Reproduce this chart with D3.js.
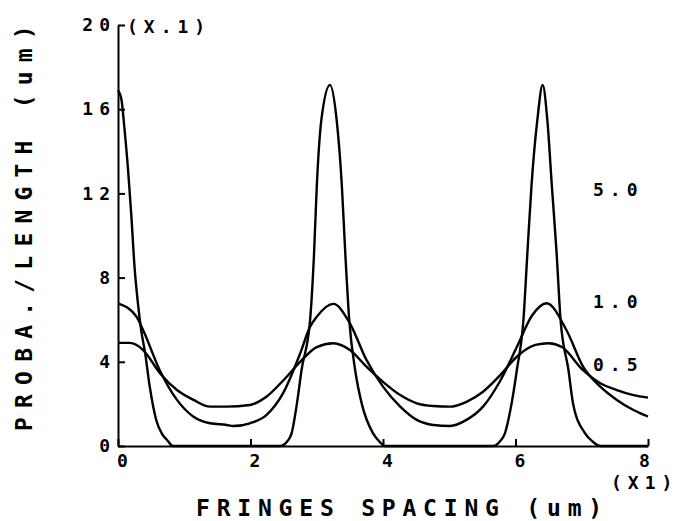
<!DOCTYPE html>
<html>
<head>
<meta charset="utf-8">
<script src="https://cdn.jsdelivr.net/npm/d3@7"></script>
<style>
    body { margin: 0; background: #fff; }
    svg { display: block; }
</style>
</head>
<body>
<svg></svg>
<script>

    // Section for Data

    var xTicks = [0, 2, 4, 6, 8];
    var yTicks = [0, 4, 8, 12, 16, 20];
    var seriesNames = ["5.0", "1.0", "0.5"];

    // curve 5.0
    var x50 = [0, 0.05, 0.1, 0.15, 0.2, 0.25, 0.3, 0.35, 0.41, 0.48, 0.58, 0.66, 0.75, 0.83,
        2.45, 2.55, 2.62, 2.70, 2.77, 2.90, 2.96, 3.0, 3.07, 3.2, 3.30, 3.38, 3.43, 3.49, 3.58, 3.68, 3.85, 3.95, 4.03,
        5.67, 5.76, 5.84, 5.94, 6.02, 6.12, 6.18, 6.24, 6.33, 6.41, 6.48, 6.55, 6.62, 6.68, 6.80, 6.87, 7.05, 7.17, 7.28, 8.0];
    var y50 = [16.9, 16.5, 15.0, 13.2, 11.0, 8.5, 6.8, 5.5, 4.4, 2.8, 1.2, 0.6, 0.25, 0,
        0, 0.2, 0.6, 2.0, 3.6, 6.0, 9.2, 12.3, 15.5, 17.15, 15.5, 12.3, 9.2, 6.0, 3.6, 2.0, 0.6, 0.2, 0,
        0, 0.2, 0.6, 2.0, 3.6, 6.0, 9.2, 12.3, 15.5, 17.15, 15.5, 12.3, 9.2, 6.0, 3.6, 2.0, 0.6, 0.2, 0, 0];

    // curve 1.0
    var x10 = [0, 0.28, 0.38, 0.63, 0.89, 1.14, 1.39, 1.64, 1.74, 1.99, 2.24, 2.49, 2.75, 2.9, 3.0, 3.25,
        3.5, 3.75, 4.0, 4.26, 4.51, 4.76, 5.01, 5.26, 5.51, 5.77, 6.02, 6.25, 6.47, 6.77, 7.02, 7.28, 7.53, 7.78, 8.0];
    var y10 = [6.78, 6.14, 5.5, 3.6, 2.19, 1.39, 1.08, 1.0, 0.95, 1.08, 1.47, 2.5, 4.4, 5.67, 6.14, 6.75,
        5.83, 4.09, 2.82, 1.87, 1.24, 1.0, 0.95, 1.24, 1.87, 3.1, 4.7, 6.2, 6.78, 5.5, 3.77, 2.82, 2.19, 1.71, 1.4];

    // curve 0.5
    var x05 = [0, 0.18, 0.38, 0.63, 0.89, 1.14, 1.39, 1.64, 1.99, 2.24, 2.49, 2.75, 3.0, 3.25, 3.5, 3.75,
        4.0, 4.26, 4.51, 4.76, 5.01, 5.26, 5.51, 5.77, 6.02, 6.3, 6.5, 6.7, 7.02, 7.28, 7.53, 7.78, 8.0];
    var y05 = [4.9, 4.9, 4.56, 3.47, 2.66, 2.19, 1.87, 1.87, 1.95, 2.34, 3.1, 4.0, 4.7, 4.88, 4.56, 3.77,
        3.05, 2.42, 2.03, 1.9, 1.87, 2.1, 2.58, 3.37, 4.24, 4.8, 4.88, 4.7, 3.6, 2.98, 2.66, 2.42, 2.3];

    var curves = [
        { name: seriesNames[0], xs: x50, ys: y50 },
        { name: seriesNames[1], xs: x10, ys: y10 },
        { name: seriesNames[2], xs: x05, ys: y05 }
    ];

    // Section for the chart

    var svgWidth = 677;
    var svgHeight = 521;
    var font = "'DejaVu Sans Mono', 'Liberation Mono', monospace";

    // data levels where the curve names are written, right of the plot
    var nameLevels = [12.2, 6.9, 3.9];

    var x = d3.scaleLinear()
        .domain([0, 8])
        .range([118, 648]);

    var y = d3.scaleLinear()
        .domain([0, 20])
        .range([446, 25]);

    var svg = d3.select("svg")
        .attr("width", svgWidth)
        .attr("height", svgHeight);

    svg.append("rect")
        .attr("width", svgWidth)
        .attr("height", svgHeight)
        .attr("fill", "#fff");

    // small helper to give a text the plotter look
    function plotText(sel, size, spacing) {
        return sel.style("font-family", font)
            .style("font-size", size + "px")
            .style("font-weight", "bold")
            .style("letter-spacing", spacing + "px")
            .attr("fill", "#000");
    }

    // add the x Axis (ticks point into the plot)
    var gx = svg.append("g")
        .attr("transform", "translate(0," + y(0) + ")")
        .call(d3.axisBottom(x)
            .tickValues(xTicks)
            .tickSizeInner(-7)
            .tickSizeOuter(0)
            .tickPadding(8)
            .tickFormat(d3.format("d")));

    gx.selectAll("text")
        .attr("dx", function (d) { return d === 8 ? -1 : 7; });

    // add the y Axis
    var gy = svg.append("g")
        .attr("transform", "translate(" + x(0) + ",0)")
        .call(d3.axisLeft(y)
            .tickValues(yTicks)
            .tickSizeInner(-7)
            .tickSizeOuter(0)
            .tickPadding(2)
            .tickFormat(d3.format("d")));

    svg.selectAll(".domain, .tick line")
        .attr("stroke", "#000")
        .attr("stroke-width", 2);

    plotText(svg.selectAll(".tick text"), 18, 6);

    // lines
    var line = d3.line()
        .x(function (d) { return x(d[0]); })
        .y(function (d) { return y(d[1]); })
        .curve(d3.curveMonotoneX);

    svg.selectAll("path.curve")
        .data(curves)
        .enter().append("path")
        .attr("class", "curve")
        .attr("d", function (c) { return line(d3.zip(c.xs, c.ys)); })
        .attr("fill", "none")
        .attr("stroke", "#000")
        .attr("stroke-width", 2.4)
        .attr("stroke-linejoin", "round");

    // curve names
    plotText(svg.selectAll("text.name")
        .data(curves)
        .enter().append("text")
        .attr("class", "name")
        .attr("x", 593)
        .attr("y", function (c, i) { return y(nameLevels[i]) + 7; })
        .text(function (c) { return c.name; }), 18, 6);

    // scale factors
    plotText(svg.append("text")
        .attr("x", 127)
        .attr("y", 33)
        .text("(X.1)"), 18, 6);

    plotText(svg.append("text")
        .attr("x", 611)
        .attr("y", 489)
        .text("(X1)"), 18, 6);

    // axis titles
    plotText(svg.append("text")
        .attr("x", 196)
        .attr("y", 516)
        .text("FRINGES SPACING (um)"), 23, 6.8);

    plotText(svg.append("text")
        .attr("transform", "translate(32,431) rotate(-90)")
        .text("PROBA./LENGTH (um)"), 23, 9.2);

</script>
</body>
</html>
